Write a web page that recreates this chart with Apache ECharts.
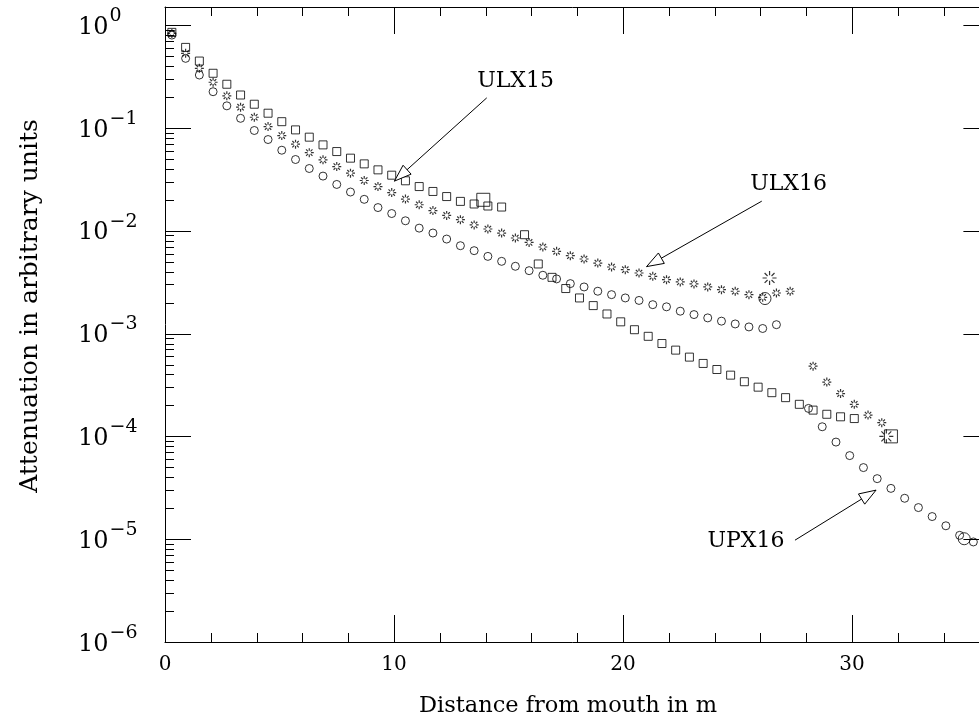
<!DOCTYPE html>
<html><head><meta charset="utf-8">
<script src="https://cdn.jsdelivr.net/npm/echarts@6/dist/echarts.min.js"></script>
<style>html,body{margin:0;padding:0;background:#fff}#c{width:979px;height:719px}</style>
</head><body><div id="c"></div>
<script>
// ---- data (distance in m, attenuation) ----
const ulx15Squares = [
 [0.3,0.85],[0.9,0.607],[1.5,0.447],[2.1,0.34],[2.7,0.266],[3.3,0.209],[3.9,0.170],[4.5,0.139],
 [5.1,0.115],[5.7,0.0957],[6.3,0.0813],[6.9,0.0684],[7.5,0.0589],[8.1,0.0508],[8.7,0.0447],[9.3,0.0391],
 [9.9,0.0347],[10.5,0.0306],[11.1,0.0269],[11.7,0.0241],[12.3,0.0215],[12.9,0.0193],[13.5,0.0182],
 [14.1,0.0174],[14.7,0.017],
 [15.7,0.00915],[16.3,0.00475],[16.9,0.00352],[17.5,0.00274],[18.1,0.00222],[18.7,0.00187],[19.3,0.00155],
 [19.9,0.0013],[20.5,0.00109],[21.1,0.00094],[21.7,0.0008],[22.3,0.00069],[22.9,0.00059],[23.5,0.000512],
 [24.1,0.000447],[24.7,0.000394],[25.3,0.00034],[25.9,0.000301],[26.5,0.000266],[27.1,0.000238],
 [27.7,0.000205],[28.3,0.00018],[28.9,0.000164],[29.5,0.000155],[30.1,0.000149]
];
const ulx15Big = [[13.9,0.0200],[31.7,0.0001]];

const ulx16Stars = [
 [0.3,0.83],[0.9,0.531],[1.5,0.38],[2.1,0.278],[2.7,0.205],[3.3,0.159],[3.9,0.127],[4.5,0.103],
 [5.1,0.0842],[5.7,0.0695],[6.3,0.0575],[6.9,0.0489],[7.5,0.0421],[8.1,0.0363],[8.7,0.0308],[9.3,0.0269],
 [9.9,0.0235],[10.5,0.0203],[11.1,0.0179],[11.7,0.0157],[12.3,0.0141],[12.9,0.0128],[13.5,0.0114],
 [14.1,0.0104],[14.7,0.0095],[15.3,0.0085],[15.9,0.0077],[16.5,0.00695],[17.1,0.0063],[17.7,0.00572],
 [18.3,0.00531],[18.9,0.00485],[19.5,0.00444],[20.1,0.00418],[20.7,0.00388],[21.3,0.0036],[21.9,0.00334],
 [22.5,0.00318],[23.1,0.00304],[23.7,0.00284],[24.3,0.00267],[24.9,0.00258],[25.5,0.00239],[26.1,0.00225],
 [26.7,0.00248],[27.3,0.00258],
 [28.3,0.000482],[28.9,0.000337],[29.5,0.000261],[30.1,0.000205],[30.7,0.000161],[31.3,0.000136]
];
const ulx16Big = [[26.4,0.00347],[31.5,0.0001]];

const upx16Circles = [
 [0.3,0.80],[0.9,0.475],[1.5,0.327],[2.1,0.225],[2.7,0.164],[3.3,0.124],[3.9,0.0944],[4.5,0.0771],
 [5.1,0.0607],[5.7,0.0493],[6.3,0.0403],[6.9,0.034],[7.5,0.0282],[8.1,0.0238],[8.7,0.0202],[9.3,0.0168],
 [9.9,0.0147],[10.5,0.0125],[11.1,0.0106],[11.7,0.0095],[12.3,0.0083],[12.9,0.00715],[13.5,0.0064],
 [14.1,0.00563],[14.7,0.00504],[15.3,0.00451],[15.9,0.00409],[16.5,0.00369],[17.1,0.0034],[17.7,0.00306],
 [18.3,0.00284],[18.9,0.00258],[19.5,0.00239],[20.1,0.00222],[20.7,0.0021],[21.3,0.00191],[21.9,0.00182],
 [22.5,0.00165],[23.1,0.00153],[23.7,0.00142],[24.3,0.00132],[24.9,0.00124],[25.5,0.00116],[26.1,0.00112],
 [26.7,0.00122],
 [28.1,0.000187],[28.7,0.000124],[29.3,0.000088],[29.9,0.000065],[30.5,0.0000497],[31.1,0.0000388],
 [31.7,0.0000312],[32.3,0.000025],[32.9,0.0000203],[33.5,0.0000166],[34.1,0.0000135],[34.7,0.0000109],
 [35.3,0.0000094]
];
const upx16Big = [[26.2,0.00219],[34.9,0.0000101]];

// annotations (data coordinates)
const noteNames = ['ULX15','ULX16','UPX16'];
const noteTips  = [[10.02,0.0304],[21.03,0.00448],[31.05,0.000030]];
const noteTails = [[14.05,0.196],[26.06,0.0194],[27.51,0.00000978]];
const noteTexts = [[15.31,0.283],[27.23,0.0281],[25.37,0.00000957]];

// axes
const xMin = 0, xMax = 36, xStep = 10;
const yMin = 1e-6, yMax = 1.5;
const xMajorTicks = [0,10,20,30];
const xMinorTicks = [2,4,6,8,12,14,16,18,22,24,26,28,32,34];
const yMajorTicks = [1e-6,1e-5,1e-4,1e-3,1e-2,1e-1,1];
const yMinorMantissas = [2,3,4,5,6,7,8,9];
const yMinorDecades = [-6,-5,-4,-3,-2,-1];
const xTitle = 'Distance from mouth in m';
const yTitle = 'Attenuation in arbitrary units';

const SERIF = '"DejaVu Serif", "Liberation Serif", serif';
const yMinorTicks = [];
yMinorDecades.forEach(d => yMinorMantissas.forEach(m => yMinorTicks.push(m * Math.pow(10, d))));

const MAJOR_LEN_X = 27, MINOR_LEN = 9, MAJOR_LEN_Y = 26;
const xTickData = xMajorTicks.map(u => [u, yMin, MAJOR_LEN_X]).concat(xMinorTicks.map(u => [u, yMin, MINOR_LEN]));
const yTickData = yMajorTicks.map(v => [xMin, v, MAJOR_LEN_Y, 1]).concat(yMinorTicks.map(v => [xMin, v, MINOR_LEN, 0]));

const starPath = 'path://M14,10L20,10M6,10L0,10M10,14L10,20M10,6L10,0M12.83,12.83L17.07,17.07M7.17,12.83L2.93,17.07M7.17,7.17L2.93,2.93M12.83,7.17L17.07,2.93';
const hollow = {color:'rgba(0,0,0,0)', borderColor:'#000', borderWidth:1};
const starStyle = {color:'rgba(0,0,0,0)', borderColor:'#000', borderWidth:1.2};
const TICK = {stroke:'#000', lineWidth:1};

function scatter(name, data, symbol, size, style){
  return {type:'scatter', name, data, symbol, symbolSize:size, itemStyle:style || hollow,
    silent:true, animation:false, z:3, clip:false};
}
function px(v){ return Math.round(v) + 0.5; }

const chart = echarts.init(document.getElementById('c'), null, {renderer:'canvas'});
const axisCommon = {
  axisLine:{show:true, onZero:false, lineStyle:{color:'#000', width:1}},
  axisTick:{show:false},
  splitLine:{show:false}
};
chart.setOption({
  animation:false,
  backgroundColor:'#fff',
  grid:{left:165, top:7, width:824.4, height:635, containLabel:false, outerBoundsMode:'none'},
  xAxis:[
    Object.assign({type:'value', position:'bottom', min:xMin, max:xMax, interval:xStep,
      axisLabel:{show:true, margin:13, color:'#000', fontFamily:SERIF, fontSize:20,
        formatter: v => (v % xStep === 0 ? String(v) : '')}}, axisCommon),
    Object.assign({type:'value', position:'top', min:xMin, max:xMax, interval:xStep,
      axisLabel:{show:false}}, axisCommon)
  ],
  yAxis:[
    Object.assign({type:'log', logBase:10, position:'left', min:yMin, max:yMax,
      axisLabel:{show:true, margin:87, align:'left', color:'#000',
        formatter: function(v){
          const l = Math.log10(v), e = Math.round(l);
          if (Math.abs(l - e) > 1e-6) return '';
          return '{b|10}{s|' + (e < 0 ? '\u2212' + (-e) : e) + '}';
        },
        rich:{
          b:{fontFamily:SERIF, fontSize:24, color:'#000', padding:[5,0,0,0]},
          s:{fontFamily:SERIF, fontSize:19, color:'#000', padding:[0,0,18,1]}
        }}}, axisCommon),
    Object.assign({type:'log', logBase:10, position:'right', min:yMin, max:yMax,
      axisLabel:{show:false}}, axisCommon)
  ],
  graphic:[
    {type:'text', x:568, y:706, silent:true,
     style:{text:xTitle, fontFamily:SERIF, fontSize:22.5, fill:'#000', align:'center', verticalAlign:'middle'}},
    {type:'text', x:30, y:306, rotation:Math.PI/2, silent:true,
     style:{text:yTitle, fontFamily:SERIF, fontSize:25, fill:'#000', align:'center', verticalAlign:'middle'}}
  ],
  series:[
    scatter('UPX16', upx16Circles, 'circle', 8),
    scatter('UPX16 marked', upx16Big, 'circle', 12),
    scatter('ULX15', ulx15Squares, 'rect', 8),
    scatter('ULX15 marked', ulx15Big, 'rect', 13),
    scatter('ULX16', ulx16Stars, starPath, 9, starStyle),
    scatter('ULX16 marked', ulx16Big, starPath, 14, starStyle),
    { type:'custom', name:'x ticks', silent:true, clip:false, z:4,
      dimensions:['x','y','len'], encode:{x:0, y:1},
      data: xTickData,
      renderItem: function(params, api){
        const p = api.coord([api.value(0), yMin]);
        const len = api.value(2);
        const top = params.coordSys.y;
        const x = px(p[0]);
        return {type:'group', children:[
          {type:'line', shape:{x1:x, y1:p[1], x2:x, y2:p[1]-len}, style:TICK},
          {type:'line', shape:{x1:x, y1:top, x2:x, y2:top+len}, style:TICK}
        ]};
      }},
    { type:'custom', name:'y ticks', silent:true, clip:false, z:4,
      dimensions:['x','y','len','both'], encode:{x:0, y:1},
      data: yTickData,
      renderItem: function(params, api){
        const p = api.coord([xMin, api.value(1)]);
        const len = api.value(2);
        const y = px(p[1]);
        const cs = params.coordSys;
        const ch = [{type:'line', shape:{x1:cs.x, y1:y, x2:cs.x+len, y2:y}, style:TICK}];
        if (api.value(3) === 1) ch.push({type:'line', shape:{x1:cs.x+cs.width, y1:y, x2:cs.x+cs.width-len, y2:y}, style:TICK});
        return {type:'group', children:ch};
      }},
    { type:'custom', name:'labels', silent:true, clip:false, z:5,
      data: noteNames.map((n, i) => [noteTips[i][0], noteTips[i][1], noteTails[i][0], noteTails[i][1], noteTexts[i][0], noteTexts[i][1]]),
      renderItem: function(params, api){
        const T = api.coord([api.value(0), api.value(1)]);
        const S = api.coord([api.value(2), api.value(3)]);
        const L = api.coord([api.value(4), api.value(5)]);
        const dx = T[0]-S[0], dy = T[1]-S[1], len = Math.hypot(dx, dy);
        const ux = dx/len, uy = dy/len, nx = -uy, ny = ux;
        const hl = 17, hw = 6;
        const bx = T[0]-ux*hl, by = T[1]-uy*hl;
        return {type:'group', children:[
          {type:'line', shape:{x1:S[0], y1:S[1], x2:T[0], y2:T[1]}, style:{stroke:'#000', lineWidth:1}},
          {type:'polygon', shape:{points:[[T[0],T[1]],[bx+nx*hw, by+ny*hw],[bx-nx*hw, by-ny*hw]]},
            style:{fill:'#fff', stroke:'#000', lineWidth:1}},
          {type:'text', x:L[0], y:L[1], style:{text:noteNames[params.dataIndex], fontFamily:SERIF, fontSize:22,
            fill:'#000', align:'center', verticalAlign:'middle'}}
        ]};
      }}
  ]
});
</script></body></html>
